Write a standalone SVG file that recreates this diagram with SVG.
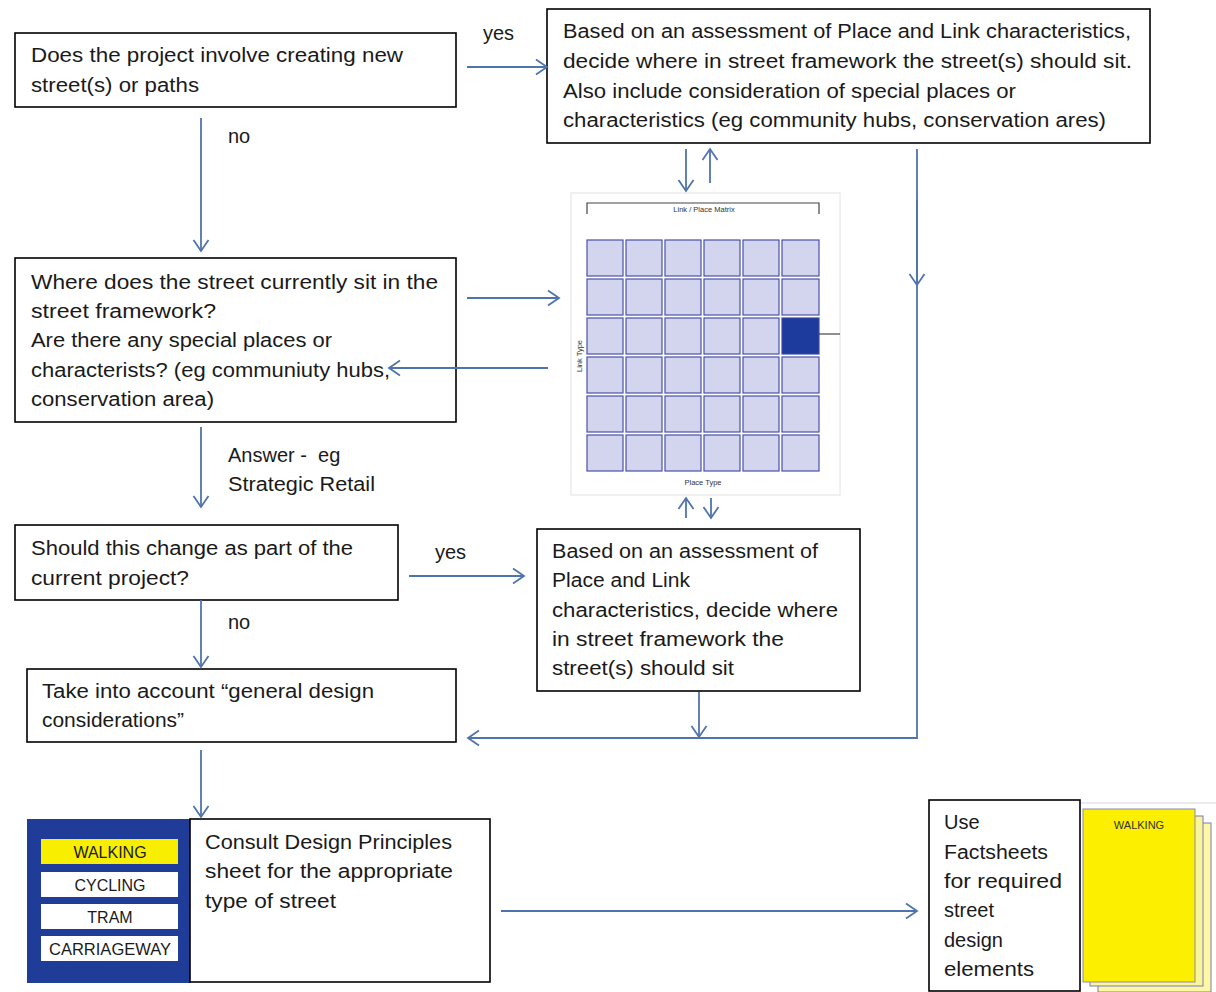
<svg xmlns="http://www.w3.org/2000/svg" width="1216" height="992" viewBox="0 0 1216 992">
<style>
.box{fill:#fff;stroke:#000;stroke-width:1.6}
.t{font-family:"Liberation Sans",Arial,sans-serif;font-size:20px;fill:#1a1a1a;white-space:pre}
.c{stroke:#4f74ad;stroke-width:1.8;fill:none}
.a{marker-end:url(#ah)}
.cell{fill:#d3d5ef;stroke:#4b50a6;stroke-width:1.2}
.btn{font-family:"Liberation Sans",Arial,sans-serif;font-size:16px;fill:#1a1a1a;text-anchor:middle}
.sm{font-family:"Liberation Sans",Arial,sans-serif;fill:#333;text-anchor:middle}
</style>
<defs>
<marker id="ah" markerUnits="userSpaceOnUse" markerWidth="14" markerHeight="18" viewBox="0 0 14 18" refX="12" refY="9" orient="auto">
<path d="M1,1.5 L12,9 L1,16.5" fill="none" stroke="#4f74ad" stroke-width="1.8"/>
</marker>
</defs>

<g id="labels">
<text class="t" x="483" y="40">yes</text>
<text class="t" x="228" y="143">no</text>
<text class="t" x="228" y="462" xml:space="preserve">Answer -  eg</text>
<text class="t" x="228" y="491" textLength="147" lengthAdjust="spacingAndGlyphs">Strategic Retail</text>
<text class="t" x="435" y="559">yes</text>
<text class="t" x="228" y="629">no</text>
</g>

<g id="n1">
<rect class="box" x="15" y="33" width="441" height="74"/>
<text class="t" x="31" y="62" textLength="372" lengthAdjust="spacingAndGlyphs">Does the project involve creating new</text>
<text class="t" x="31" y="92" textLength="168" lengthAdjust="spacingAndGlyphs">street(s) or paths</text>
</g>

<g id="n2">
<rect class="box" x="547" y="9" width="603" height="134"/>
<text class="t" x="563" y="38" textLength="568" lengthAdjust="spacingAndGlyphs">Based on an assessment of Place and Link characteristics,</text>
<text class="t" x="563" y="68" textLength="569" lengthAdjust="spacingAndGlyphs">decide where in street framework the street(s) should sit.</text>
<text class="t" x="563" y="98" textLength="453" lengthAdjust="spacingAndGlyphs">Also include consideration of special places or</text>
<text class="t" x="563" y="127" textLength="543" lengthAdjust="spacingAndGlyphs">characteristics (eg community hubs, conservation ares)</text>
</g>

<g id="n3">
<rect class="box" x="15" y="258" width="441" height="164"/>
<text class="t" x="31" y="289" textLength="407" lengthAdjust="spacingAndGlyphs">Where does the street currently sit in the</text>
<text class="t" x="31" y="318" textLength="185" lengthAdjust="spacingAndGlyphs">street framework?</text>
<text class="t" x="31" y="347" textLength="301" lengthAdjust="spacingAndGlyphs">Are there any special places or</text>
<text class="t" x="31" y="377" textLength="359" lengthAdjust="spacingAndGlyphs">characterists? (eg communiuty hubs,</text>
<text class="t" x="31" y="406" textLength="183" lengthAdjust="spacingAndGlyphs">conservation area)</text>
</g>

<g id="matrix">
<rect x="571" y="193" width="269" height="302" fill="#fff" stroke="#e2e2e2" stroke-width="1"/>
<path d="M587,214 V203 H819 V214" fill="none" stroke="#444" stroke-width="1.2"/>
<text class="sm" x="704" y="212" font-size="7.5">Link / Place Matrix</text>
<text class="sm" x="582" y="356" font-size="7.5" transform="rotate(-90 582 356)">Link Type</text>
<text class="sm" x="703" y="485" font-size="7.5">Place Type</text>
<g>
<rect class="cell" x="587" y="240" width="36" height="36"/><rect class="cell" x="626" y="240" width="36" height="36"/><rect class="cell" x="665" y="240" width="36" height="36"/><rect class="cell" x="704" y="240" width="36" height="36"/><rect class="cell" x="743" y="240" width="36" height="36"/><rect class="cell" x="782" y="240" width="37" height="36"/>
<rect class="cell" x="587" y="279" width="36" height="36"/><rect class="cell" x="626" y="279" width="36" height="36"/><rect class="cell" x="665" y="279" width="36" height="36"/><rect class="cell" x="704" y="279" width="36" height="36"/><rect class="cell" x="743" y="279" width="36" height="36"/><rect class="cell" x="782" y="279" width="37" height="36"/>
<rect class="cell" x="587" y="318" width="36" height="36"/><rect class="cell" x="626" y="318" width="36" height="36"/><rect class="cell" x="665" y="318" width="36" height="36"/><rect class="cell" x="704" y="318" width="36" height="36"/><rect class="cell" x="743" y="318" width="36" height="36"/><rect x="782" y="318" width="37" height="36" fill="#1d3b9c" stroke="#3a4aa8" stroke-width="1.2"/>
<rect class="cell" x="587" y="357" width="36" height="36"/><rect class="cell" x="626" y="357" width="36" height="36"/><rect class="cell" x="665" y="357" width="36" height="36"/><rect class="cell" x="704" y="357" width="36" height="36"/><rect class="cell" x="743" y="357" width="36" height="36"/><rect class="cell" x="782" y="357" width="37" height="36"/>
<rect class="cell" x="587" y="396" width="36" height="36"/><rect class="cell" x="626" y="396" width="36" height="36"/><rect class="cell" x="665" y="396" width="36" height="36"/><rect class="cell" x="704" y="396" width="36" height="36"/><rect class="cell" x="743" y="396" width="36" height="36"/><rect class="cell" x="782" y="396" width="37" height="36"/>
<rect class="cell" x="587" y="435" width="36" height="36"/><rect class="cell" x="626" y="435" width="36" height="36"/><rect class="cell" x="665" y="435" width="36" height="36"/><rect class="cell" x="704" y="435" width="36" height="36"/><rect class="cell" x="743" y="435" width="36" height="36"/><rect class="cell" x="782" y="435" width="37" height="36"/>
</g>
<path d="M819,334 H840" stroke="#444" stroke-width="1.2"/>
</g>

<g id="n4">
<rect class="box" x="15" y="525" width="383" height="75"/>
<text class="t" x="31" y="555" textLength="322" lengthAdjust="spacingAndGlyphs">Should this change as part of the</text>
<text class="t" x="31" y="585" textLength="158" lengthAdjust="spacingAndGlyphs">current project?</text>
</g>

<g id="n5">
<rect class="box" x="537" y="529" width="323" height="162"/>
<text class="t" x="552" y="558" textLength="266" lengthAdjust="spacingAndGlyphs">Based on an assessment of</text>
<text class="t" x="552" y="587" textLength="138" lengthAdjust="spacingAndGlyphs">Place and Link</text>
<text class="t" x="552" y="617" textLength="286" lengthAdjust="spacingAndGlyphs">characteristics, decide where</text>
<text class="t" x="552" y="646" textLength="232" lengthAdjust="spacingAndGlyphs">in street framework the</text>
<text class="t" x="552" y="675" textLength="182" lengthAdjust="spacingAndGlyphs">street(s) should sit</text>
</g>

<g id="n6">
<rect class="box" x="27" y="669" width="429" height="73"/>
<text class="t" x="42" y="698" textLength="332" lengthAdjust="spacingAndGlyphs">Take into account “general design</text>
<text class="t" x="42" y="727" textLength="142" lengthAdjust="spacingAndGlyphs">considerations”</text>
</g>

<g id="n7">
<rect x="27" y="819" width="164" height="164" fill="#1f3d98"/>
<rect x="41" y="839" width="137" height="25" fill="#f8ee00"/>
<rect x="41" y="872" width="137" height="25" fill="#fff"/>
<rect x="41" y="904" width="137" height="25" fill="#fff"/>
<rect x="41" y="936" width="137" height="25" fill="#fff"/>
<text class="btn" x="110" y="858">WALKING</text>
<text class="btn" x="110" y="891">CYCLING</text>
<text class="btn" x="110" y="923">TRAM</text>
<text class="btn" x="110" y="955" textLength="122" lengthAdjust="spacingAndGlyphs">CARRIAGEWAY</text>
<rect class="box" x="190" y="819" width="300" height="163"/>
<text class="t" x="205" y="849" textLength="247" lengthAdjust="spacingAndGlyphs">Consult Design Principles</text>
<text class="t" x="205" y="878" textLength="248" lengthAdjust="spacingAndGlyphs">sheet for the appropriate</text>
<text class="t" x="205" y="908" textLength="131" lengthAdjust="spacingAndGlyphs">type of street</text>
</g>

<g id="n8">
<path d="M1080,803 H1216" stroke="#d8d8d8" stroke-width="1"/>
<rect x="1098" y="823" width="113" height="169" fill="#fdf7a6" stroke="#7a7ab8" stroke-width="1"/>
<rect x="1090" y="816" width="113" height="170" fill="#fbf59a" stroke="#7a7ab8" stroke-width="1"/>
<rect x="1083" y="809" width="112" height="173" fill="#fcef00" stroke="#8a8ab0" stroke-width="1"/>
<text class="sm" x="1139" y="829" font-size="11" fill="#222">WALKING</text>
<rect class="box" x="929" y="800" width="151" height="191"/>
<text class="t" x="944" y="829">Use</text>
<text class="t" x="944" y="859" textLength="104" lengthAdjust="spacingAndGlyphs">Factsheets</text>
<text class="t" x="944" y="888" textLength="118" lengthAdjust="spacingAndGlyphs">for required</text>
<text class="t" x="944" y="917">street</text>
<text class="t" x="944" y="947">design</text>
<text class="t" x="944" y="976" textLength="90" lengthAdjust="spacingAndGlyphs">elements</text>
</g>

<g id="connectors">
<path class="c a" d="M467,67 H547"/>
<path class="c a" d="M201,118 V251"/>
<path class="c a" d="M467,298 H559"/>
<path class="c a" d="M548,368 H389"/>
<path class="c a" d="M686,149 V191"/>
<path class="c a" d="M710,183 V149"/>
<path class="c" d="M917,149 V738 H469"/>
<path class="c a" d="M917,200 V285"/>
<path class="c a" d="M469,738 H468"/>
<path class="c a" d="M201,427 V507"/>
<path class="c a" d="M409,576 H524"/>
<path class="c a" d="M686,518 V498"/>
<path class="c a" d="M711,498 V518"/>
<path class="c a" d="M201,600 V667"/>
<path class="c a" d="M699,692 V737"/>
<path class="c a" d="M201,750 V817"/>
<path class="c a" d="M501,911 H917"/>
</g>
</svg>
